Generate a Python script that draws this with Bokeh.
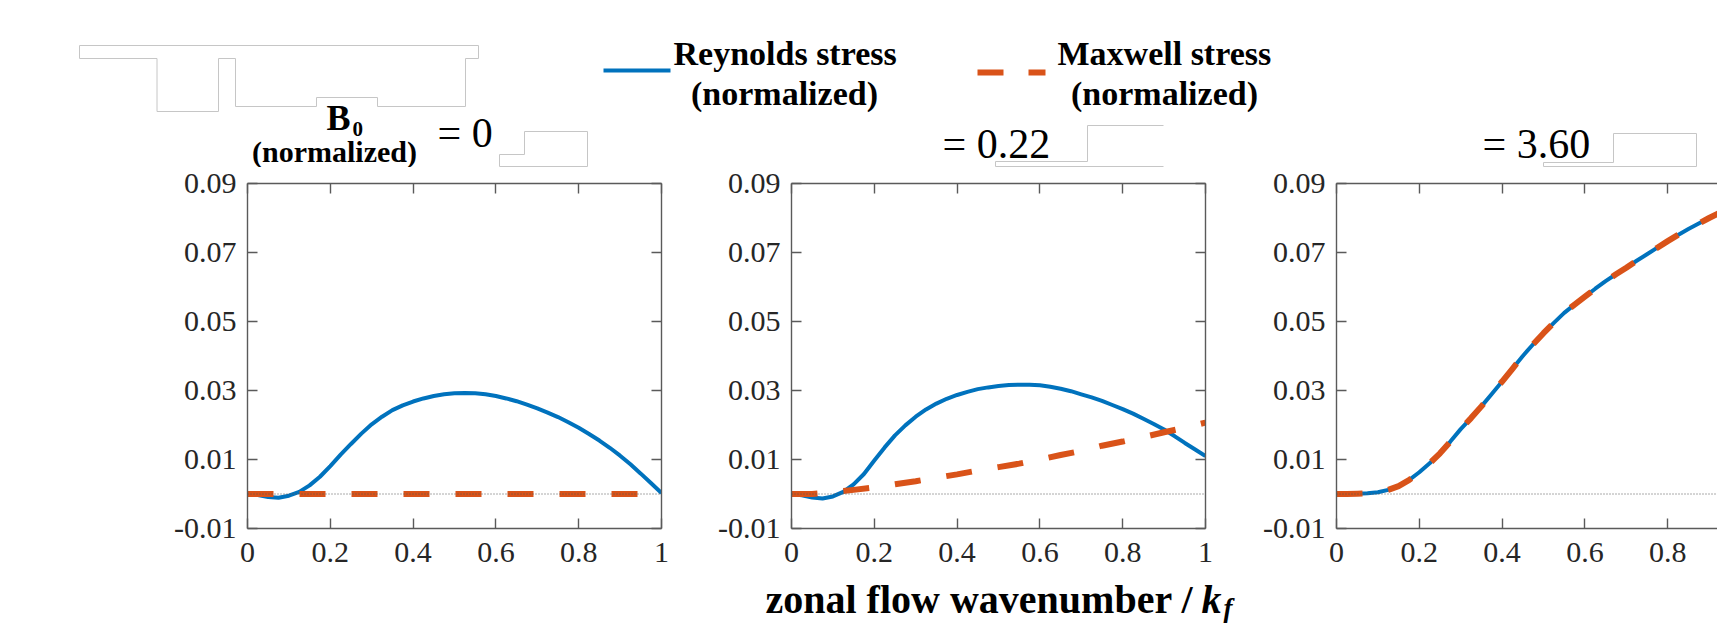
from bokeh.plotting import figure
from bokeh.models import Range1d, LinearAxis, FixedTicker, Span
from bokeh.layouts import column, row
from bokeh.embed import file_html
from bokeh.resources import INLINE
from bokeh.core.properties import value

# ---------------- data ----------------
k_fine = [0, 0.025, 0.05, 0.075, 0.1, 0.125, 0.15, 0.175, 0.2, 0.225, 0.25, 0.275,
          0.3, 0.325, 0.35, 0.375, 0.4, 0.425, 0.45, 0.475, 0.5, 0.525, 0.55, 0.575,
          0.6, 0.625, 0.65, 0.675, 0.7, 0.725, 0.75, 0.775, 0.8, 0.825, 0.85, 0.875,
          0.9, 0.925, 0.95, 0.975, 1.0]
k_coarse = [0, 0.05, 0.1, 0.15, 0.2, 0.25, 0.3, 0.35, 0.4, 0.45, 0.5, 0.55, 0.6,
            0.65, 0.7, 0.75, 0.8, 0.85, 0.9, 0.95, 1.0]

# B0 = 0
reynolds_b0 = [0.0, -0.0003, -0.0009, -0.0011, -0.0005, 0.0006, 0.0025, 0.0050, 0.0081,
               0.0114, 0.0145, 0.0175, 0.0202, 0.0224, 0.0243, 0.0257, 0.0268, 0.0277,
               0.0284, 0.0289, 0.0292, 0.0293, 0.0292, 0.0289, 0.0284, 0.0277, 0.0269,
               0.0259, 0.0248, 0.0236, 0.0223, 0.0208, 0.0192, 0.0174, 0.0155, 0.0134,
               0.0111, 0.0086, 0.0059, 0.0031, 0.0003]
maxwell_b0 = [0.0, 0.0, 0.0, 0.0, 0.0, 0.0, 0.0, 0.0, 0.0, 0.0, 0.0, 0.0, 0.0,
              0.0, 0.0, 0.0, 0.0, 0.0, 0.0, 0.0, 0.0]

# B0 = 0.22
reynolds_b022 = [0.0, -0.0004, -0.0010, -0.0013, -0.0007, 0.0006, 0.0028, 0.0058, 0.0097,
                 0.0135, 0.0170, 0.0199, 0.0224, 0.0245, 0.0262, 0.0276, 0.0287, 0.0296,
                 0.0304, 0.0309, 0.0313, 0.0316, 0.0317, 0.0317, 0.0315, 0.0311, 0.0305,
                 0.0298, 0.0289, 0.0280, 0.0270, 0.0258, 0.0246, 0.0233, 0.0218, 0.0203,
                 0.0187, 0.0168, 0.0148, 0.0129, 0.0110]
maxwell_b022 = [0.0, 0.0000, 0.0005, 0.0012, 0.0019, 0.0028, 0.0037, 0.0047, 0.0057,
                0.0068, 0.0078, 0.0088, 0.0100, 0.0113, 0.0125, 0.0140, 0.0152, 0.0165,
                0.0179, 0.0192, 0.0207]

# B0 = 3.60
reynolds_b36 = [0.0, 0.0000, 0.0001, 0.0002, 0.0005, 0.0012, 0.0023, 0.0040, 0.0063,
                0.0089, 0.0118, 0.0152, 0.0188, 0.0220, 0.0254, 0.0290, 0.0326, 0.0363,
                0.0400, 0.0434, 0.0466, 0.0496, 0.0525, 0.0549, 0.0572, 0.0595, 0.0617,
                0.0637, 0.0656, 0.0676, 0.0695, 0.0714, 0.0733, 0.0751, 0.0768, 0.0784,
                0.0800, 0.0815, 0.0830, 0.0843, 0.0856]
maxwell_b36 = [0.0, 0.0000, 0.0001, 0.0002, 0.0005, 0.0012, 0.0023, 0.0040, 0.0063,
               0.0089, 0.0118, 0.0152, 0.0188, 0.0220, 0.0254, 0.0290, 0.0326, 0.0363,
               0.0400, 0.0434, 0.0466, 0.0496, 0.0525, 0.0549, 0.0572, 0.0595, 0.0617,
               0.0637, 0.0656, 0.0676, 0.0695, 0.0714, 0.0733, 0.0751, 0.0768, 0.0784,
               0.0800, 0.0815, 0.0830, 0.0843, 0.0856]

panel_values = ["= 0", "= 0.22", "= 3.60"]
x_ticks = [0, 0.2, 0.4, 0.6, 0.8, 1]
x_tick_labels = ["0", "0.2", "0.4", "0.6", "0.8", "1"]
y_ticks = [-0.01, 0.01, 0.03, 0.05, 0.07, 0.09]
y_tick_labels = ["-0.01", "0.01", "0.03", "0.05", "0.07", "0.09"]
legend_labels = ["Reynolds stress", "Maxwell stress"]
legend_sub = "(normalized)"
x_label = "zonal flow wavenumber /"

# ---------------- styles / layout ----------------
BLUE = "#0072BD"
ORANGE = "#D95319"
AXC = "#5a5a5a"
TXT = "#262626"
ART = "#c6c6c6"
SERIF = value("Liberation Serif")

PAGE_W = 1717
HDR_B = 167          # header occupies page y 0..167
PAN_TOP = 16         # panel frame top at 183
PAN_BOT = 49         # panel figure ends at 577
FTR_T, FTR_B = 577, 624

# ---------------- header ----------------
hdr = figure(width=PAGE_W, height=HDR_B,
             x_range=Range1d(0, PAGE_W), y_range=Range1d(HDR_B, 0),
             min_border=0, toolbar_location=None, x_axis_location=None,
             y_axis_location=None, output_backend="svg")
hdr.outline_line_color = None
hdr.grid.visible = False

# faint grey outline artefacts of the original figure
art_xs = [[79, 478, 478, 465, 465, 377, 377, 316, 316, 235, 235, 218, 218, 156.5, 156.5, 79, 79],
          [499, 499, 524, 524, 587, 587, 499],
          [1163, 1087, 1087, 995, 995, 1163],
          [1543, 1543, 1696, 1696, 1613, 1613, 1543]]
art_ys = [[45, 45, 58, 58, 106, 106, 97, 97, 106, 106, 58, 58, 111, 111, 58, 58, 45],
          [166, 154, 154, 131, 131, 166, 166],
          [125, 125, 161, 161, 166, 166],
          [162, 166, 166, 133, 133, 162, 162]]
hdr.multi_line(art_xs, art_ys, line_color=ART, line_width=1)


def htext(fig, xs, ys, texts, size, style="bold", align="left"):
    fig.text(x=xs, y=ys, text=texts, text_font=SERIF, text_font_style=style,
             text_font_size=size, text_baseline="middle", text_align=align,
             text_color="black")


# legend
hdr.line([603, 670], [70, 70], line_color=BLUE, line_width=4)
hdr.line([977, 1045], [72, 72], line_color=ORANGE, line_width=6, line_dash="26 25")
htext(hdr, [673, 1057], [53, 53], legend_labels, "34px")
htext(hdr, [784, 1164], [93, 93], [legend_sub, legend_sub], "34px", align="center")

# B0 (normalized)
htext(hdr, [326], [117], ["B"], "36px")
htext(hdr, [352], [128], ["0"], "21px")
htext(hdr, [334], [150.5], [legend_sub], "30px", align="center")

# panel values
htext(hdr, [437, 942, 1482], [132, 143.5, 143.5], panel_values, "42px", style="normal")


# ---------------- panels ----------------
def style_axis(ax, ticks, labels, show):
    ax.ticker = FixedTicker(ticks=ticks)
    ax.axis_line_color = AXC
    ax.axis_line_width = 1.4
    ax.major_tick_line_color = AXC
    ax.major_tick_line_width = 1.4
    ax.major_tick_in = 10
    ax.major_tick_out = 0
    ax.minor_tick_line_color = None
    ov = {}
    for t, l in zip(ticks, labels):
        ov[t] = l if show else ""
    ax.major_label_overrides = ov
    if show:
        ax.major_label_text_font = "Liberation Serif"
        ax.major_label_text_font_size = "30px"
        ax.major_label_text_color = TXT
    else:
        ax.major_label_text_font_size = "6px"
        ax.major_label_standoff = 0


def make_panel(frame_w, left_b, right_b, xmax, has_right, k1, rey, k2, mx):
    p = figure(frame_width=frame_w, frame_height=345,
               min_border_left=left_b, min_border_right=right_b,
               min_border_top=PAN_TOP, min_border_bottom=PAN_BOT,
               x_range=Range1d(0, xmax), y_range=Range1d(-0.01, 0.09),
               toolbar_location=None, output_backend="svg")
    p.outline_line_color = None
    p.grid.visible = False
    style_axis(p.xaxis[0], x_ticks, x_tick_labels, True)
    p.xaxis[0].major_label_standoff = 14
    style_axis(p.yaxis[0], y_ticks, y_tick_labels, True)
    p.yaxis[0].major_label_standoff = 11
    top = LinearAxis()
    style_axis(top, x_ticks, x_tick_labels, False)
    p.add_layout(top, "above")
    if has_right:
        right = LinearAxis()
        style_axis(right, y_ticks, y_tick_labels, False)
        p.add_layout(right, "right")
    p.line(k1, rey, line_color=BLUE, line_width=4)
    p.line(k2, mx, line_color=ORANGE, line_width=6, line_dash="26 26", line_cap="butt")
    p.add_layout(Span(location=0, dimension="width", line_color="#555555",
                      line_width=1, line_dash="1 2"))
    return p


# frames: p1 247..661, p2 791..1205, p3 1336..1717 (cut at window edge)
p1 = make_panel(414, 247, 29, 1.0, True, k_fine, reynolds_b0, k_coarse, maxwell_b0)
p2 = make_panel(414, 101, 25, 1.0, True, k_fine, reynolds_b022, k_coarse, maxwell_b022)
p3 = make_panel(381, 106, 0, 381 / 414, False, k_fine, reynolds_b36, k_fine, maxwell_b36)

# ---------------- footer (x-axis title) ----------------
ftr = figure(width=PAGE_W, height=FTR_B - FTR_T,
             x_range=Range1d(0, PAGE_W), y_range=Range1d(FTR_B, FTR_T),
             min_border=0, toolbar_location=None, x_axis_location=None,
             y_axis_location=None, output_backend="svg")
ftr.outline_line_color = None
ftr.grid.visible = False
htext(ftr, [765], [599], [x_label], "40px")
htext(ftr, [1201], [599], ["k"], "40px", style="bold italic")
htext(ftr, [1223], [607], ["f"], "27px", style="bold italic")

layout = column(hdr, row(p1, p2, p3, spacing=0), ftr, spacing=0)

open("out.html", "w").write(file_html(layout, INLINE))
